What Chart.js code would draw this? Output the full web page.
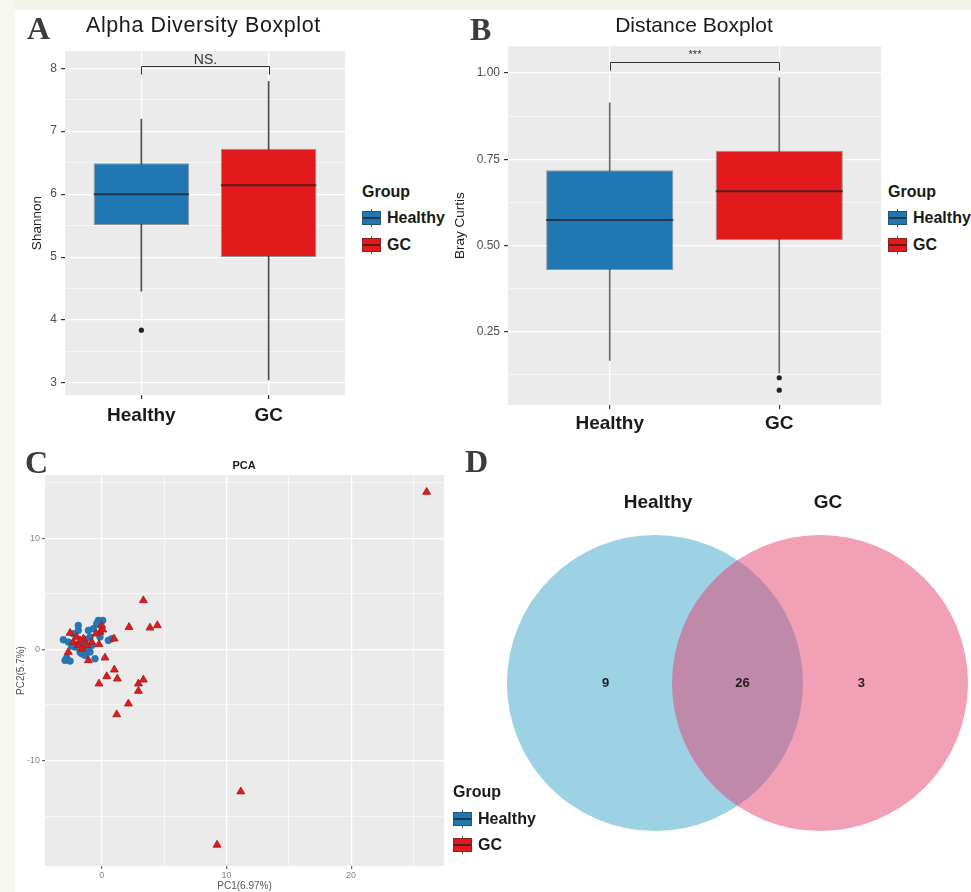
<!DOCTYPE html>
<html><head><meta charset="utf-8">
<script src="https://cdn.jsdelivr.net/npm/chart.js@4.4.1/dist/chart.umd.min.js"></script>
<style>
html,body{margin:0;padding:0;background:#fff;}
body{width:971px;height:892px;overflow:hidden;position:relative;font-family:"Liberation Sans",Arial,sans-serif;}
.strip{position:absolute;}
.txt{position:absolute;white-space:nowrap;line-height:1;transform:translateY(-50%);color:#1a1a1a;}
.ctr{transform:translate(-50%,-50%);}
.letter{font-family:"Liberation Serif","Times New Roman",serif;font-weight:bold;font-size:32px;color:#3c3c3c;}
canvas{position:absolute;}
.key{position:absolute;width:19px;height:18px;}
.key .w{position:absolute;left:9px;top:0;width:1px;height:18px;background:#555;}
.key .b{position:absolute;left:0;top:2px;width:17px;height:12px;border:1px solid rgba(40,40,40,0.45);}
.key .m{position:absolute;left:1px;top:8px;width:17px;height:2px;background:rgba(30,30,30,0.7);}
.lg{font-weight:bold;font-size:16px;}
</style></head><body>
<div class="strip" style="left:0;top:0;width:971px;height:10px;background:#f1f5e7"></div>
<div class="strip" style="left:0;top:0;width:15px;height:892px;background:#f6f7f1"></div>

<canvas id="cA" width="335" height="400" style="left:15px;top:40px"></canvas>
<canvas id="cB" width="436" height="405" style="left:450px;top:35px"></canvas>
<canvas id="cC" width="435" height="437" style="left:15px;top:455px"></canvas>
<canvas id="cD" width="501" height="452" style="left:470px;top:440px"></canvas>

<div class="txt letter" style="left:27px;top:28px">A</div>
<div class="txt letter" style="left:470px;top:29px">B</div>
<div class="txt letter" style="left:25px;top:462px">C</div>
<div class="txt letter" style="left:465px;top:461px">D</div>

<div class="txt" style="left:86px;top:26px;font-size:21.5px;letter-spacing:0.6px">Alpha Diversity Boxplot</div>
<div class="txt ctr" style="left:694px;top:24px;font-size:21px">Distance Boxplot</div>
<div class="txt ctr" style="left:244px;top:465px;font-size:11px;font-weight:bold">PCA</div>

<div id="legends"></div>

<script>
// ---------------- data ----------------
const groups = ['Healthy', 'GC'];

// Panel A: Shannon alpha diversity (box statistics)
const shannonLower  = [4.46, 3.05];
const shannonQ1     = [5.51, 5.00];
const shannonMedian = [6.00, 6.14];
const shannonQ3     = [6.49, 6.72];
const shannonUpper  = [7.19, 7.79];
const shannonOutliers = [[3.84], []];
const shannonTicks  = [3, 4, 5, 6, 7, 8];
const shannonSig    = 'NS.';

// Panel B: Bray Curtis distance (box statistics)
const brayLower  = [0.166, 0.130];
const brayQ1     = [0.429, 0.515];
const brayMedian = [0.574, 0.657];
const brayQ3     = [0.718, 0.775];
const brayUpper  = [0.914, 0.987];
const brayOutliers = [[], [0.116, 0.080]];
const brayTicks  = [0.25, 0.50, 0.75, 1.00];
const braySig    = '***';

// Panel C: PCA scores
const pcaHealthyX = [-3.08,-2.81,-2.94,-2.54,-2.28,-1.88,-1.07,-0.67,-0.27,0.08,-0.40,-1.60,-1.34,-0.94,-1.20,-0.54,-2.14,-1.47,0.80,0.53,-0.94,-2.68,-1.74,-0.14,-0.80,-1.88,-2.40,-1.30];
const pcaHealthyY = [0.87,-0.75,-0.99,-1.05,1.41,1.71,1.71,1.86,2.61,2.61,2.31,-0.39,-0.54,-0.24,0.06,-0.84,0.21,0.51,0.96,0.81,1.11,0.66,-0.24,1.11,0.36,2.16,0.30,0.90];
const pcaGCX = [3.34,2.19,3.87,4.46,-2.54,-2.00,-1.47,-1.87,-1.20,-2.68,-1.07,-0.22,0.26,-0.14,0.08,-0.46,1.01,0.40,1.25,-0.22,2.94,3.34,2.94,2.14,0.99,-0.80,-1.74,-2.28,-1.60,0.00,1.20,26.06,11.15,9.25];
const pcaGCY = [4.41,2.00,1.95,2.16,1.47,1.11,0.96,0.36,0.36,-0.24,-0.99,0.45,-0.75,1.56,1.77,1.41,-1.83,-2.43,-2.64,-3.09,-3.09,-2.73,-3.75,-4.89,0.96,0.66,0.81,0.66,0.06,2.16,-5.86,14.17,-12.80,-17.60];
const pcaXTicks = [0, 10, 20];
const pcaYTicks = [-10, 0, 10];
const pcaXTitle = 'PC1(6.97%)';
const pcaYTitle = 'PC2(5.7%)';

// Panel D: Venn counts  [Healthy only, shared, GC only]
const vennSets = ['Healthy', 'GC'];
const vennCounts = [9, 26, 3];

// ---------------- styles ----------------
const F = '"Liberation Sans", Arial, sans-serif';
const groupFill = ['#1f78b4', '#e31a1c'];
const panelBg = '#ebebeb';
Chart.defaults.font.family = F;

function withMinor(major, min, max) {
  const step = major[1] - major[0];
  const out = major.map(v => ({value: v, minorGrid: false}));
  const cands = [major[0] - step / 2, major[major.length - 1] + step / 2];
  for (let i = 0; i < major.length - 1; i++) cands.push((major[i] + major[i + 1]) / 2);
  cands.forEach(v => { if (v >= min && v <= max) out.push({value: v, minorGrid: true}); });
  return out.sort((a, b) => a.value - b.value);
}

const bgPlugin = {
  id: 'panelBg',
  beforeDraw(chart, args, o) {
    if (!o || !o.color) return;
    const {ctx, chartArea: a} = chart;
    ctx.save(); ctx.fillStyle = o.color; ctx.fillRect(a.left, a.top, a.width, a.height); ctx.restore();
  }
};

const boxExtras = {
  id: 'boxExtras',
  afterDatasetsDraw(chart, args, o) {
    if (!o || !o.medians) return;
    const {ctx, scales: {x, y}} = chart;
    const meta = chart.getDatasetMeta(0);
    ctx.save();
    ctx.strokeStyle = 'rgba(30,30,30,0.72)'; ctx.lineWidth = 2;
    meta.data.forEach((bar, i) => {
      const py = y.getPixelForValue(o.medians[i]);
      ctx.beginPath(); ctx.moveTo(bar.x - bar.width / 2, py); ctx.lineTo(bar.x + bar.width / 2, py); ctx.stroke();
    });
    const x1 = Math.round(x.getPixelForValue(1)) + 0.5, x2 = Math.round(x.getPixelForValue(2)) + 0.5;
    const yb = Math.round(y.getPixelForValue(o.bracket[0])) + 0.5, yd = y.getPixelForValue(o.bracket[1]);
    ctx.strokeStyle = '#333'; ctx.lineWidth = 1;
    ctx.beginPath(); ctx.moveTo(x1, yd); ctx.lineTo(x1, yb); ctx.lineTo(x2, yb); ctx.lineTo(x2, yd); ctx.stroke();
    ctx.fillStyle = '#333'; ctx.font = o.labelFont; ctx.textAlign = 'center'; ctx.textBaseline = 'alphabetic';
    ctx.fillText(o.label, (x1 + x2) / 2, yb - o.labelGap);
    ctx.restore();
  }
};

function boxChart(id, c) {
  const box = groups.map((g, i) => ({x: i + 1, y: [c.q1[i], c.q3[i]]}));
  const whisk = groups.map((g, i) => ({x: i + 1, y: [c.lo[i], c.hi[i]]}));
  const outl = [];
  c.out.forEach((arr, i) => arr.forEach(v => outl.push({x: i + 1, y: v})));
  const yTicks = withMinor(c.ticks, c.ymin, c.ymax);
  return new Chart(document.getElementById(id), {
    type: 'bar',
    data: { datasets: [
      { type: 'bar', data: box, backgroundColor: groupFill, borderColor: 'rgba(40,40,40,0.45)', borderWidth: 1,
        borderSkipped: false, grouped: false, barPercentage: 0.75, categoryPercentage: 1, order: 0 },
      { type: 'bar', data: whisk, backgroundColor: c.whiskColor, borderWidth: 0, grouped: false, barThickness: 1, order: 2 },
      { type: 'scatter', data: outl, pointRadius: 2.6, backgroundColor: '#222', borderWidth: 0, order: 1 }
    ]},
    options: {
      responsive: false, animation: false, events: [],
      layout: { padding: { top: c.padTop, right: c.padRight, left: 0, bottom: 0 } },
      plugins: {
        legend: { display: false }, tooltip: { enabled: false },
        panelBg: { color: panelBg },
        boxExtras: { medians: c.med, bracket: c.bracket, label: c.sig, labelFont: c.sigFont, labelGap: c.sigGap }
      },
      scales: {
        x: {
          type: 'linear', min: 0.4, max: 2.6, offset: false,
          afterBuildTicks: s => { s.ticks = groups.map((g, i) => ({value: i + 1})); },
          afterFit: s => { s.height = c.xAxisH; },
          ticks: { autoSkip: false, maxRotation: 0, padding: c.xPad, color: '#1a1a1a',
                   font: { size: 19, weight: 'bold' }, callback: v => groups[Math.round(v) - 1] },
          grid: { offset: false, color: '#ffffff', lineWidth: 1.2, tickColor: '#333', tickLength: 4 },
          border: { display: false }
        },
        y: {
          type: 'linear', min: c.ymin, max: c.ymax,
          afterBuildTicks: s => { s.ticks = yTicks.map(t => ({value: t.value, minorGrid: t.minorGrid})); },
          afterFit: s => { s.width = c.yAxisW; },
          ticks: { autoSkip: false, padding: 4, color: '#4d4d4d', font: { size: 12 },
                   callback: (v, i, t) => t[i].minorGrid ? '' : c.fmt(v) },
          grid: { color: '#ffffff', lineWidth: k => (k.tick && k.tick.minorGrid) ? 0.6 : 1.2,
                  tickColor: k => (k.tick && k.tick.minorGrid) ? 'rgba(0,0,0,0)' : '#333', tickLength: 4 },
          border: { display: false },
          title: { display: true, text: c.ytitle, color: '#222', font: { size: 13.5 }, padding: { top: c.titlePad, bottom: 0 } }
        }
      }
    },
    plugins: [bgPlugin, boxExtras]
  });
}

boxChart('cA', {
  q1: shannonQ1, q3: shannonQ3, lo: shannonLower, hi: shannonUpper, med: shannonMedian, out: shannonOutliers,
  ticks: shannonTicks, ymin: 2.81, ymax: 8.27, fmt: v => String(v), ytitle: 'Shannon',
  bracket: [8.04, 7.90], sig: shannonSig, sigFont: '14px ' + F, sigGap: 3, whiskColor: '#4d4d4d',
  padTop: 7, padRight: 5, yAxisW: 50, xAxisH: 45, xPad: 5, titlePad: 14
});
boxChart('cB', {
  q1: brayQ1, q3: brayQ3, lo: brayLower, hi: brayUpper, med: brayMedian, out: brayOutliers,
  ticks: brayTicks, ymin: 0.037, ymax: 1.078, fmt: v => v.toFixed(2), ytitle: 'Bray Curtis',
  bracket: [1.031, 1.007], sig: braySig, sigFont: '11px ' + F, sigGap: 5, whiskColor: '#6a6a6a',
  padTop: 7, padRight: 5, yAxisW: 58, xAxisH: 35, xPad: 3, titlePad: 2
});

// Panel C: PCA scatter
(function () {
  const xt = withMinor([-10, 0, 10, 20], -4.55, 27.45).filter(t => t.value >= -4.55 && t.value <= 27.45 && (t.minorGrid || pcaXTicks.includes(t.value)));
  const yt = withMinor([-20, -10, 0, 10, 20], -19.5, 15.7).filter(t => t.value >= -19.5 && t.value <= 15.7 && (t.minorGrid || pcaYTicks.includes(t.value)));
  const axisCommon = (ticksArr) => ({
    type: 'linear',
    afterBuildTicks: s => { s.ticks = ticksArr.map(t => ({value: t.value, minorGrid: t.minorGrid})); },
    ticks: { autoSkip: false, maxRotation: 0, color: '#858585', font: { size: 9 },
             callback: (v, i, t) => t[i].minorGrid ? '' : String(v) },
    grid: { color: '#ffffff', lineWidth: k => (k.tick && k.tick.minorGrid) ? 0.6 : 1.2,
            tickColor: k => (k.tick && k.tick.minorGrid) ? 'rgba(0,0,0,0)' : '#666', tickLength: 3 },
    border: { display: false }
  });
  const xs = axisCommon(xt), ys = axisCommon(yt);
  Object.assign(xs, { min: -4.55, max: 27.45, afterFit: s => { s.height = 26; },
    title: { display: true, text: pcaXTitle, color: '#555', font: { size: 10 }, padding: { top: 0, bottom: 0 } } });
  xs.ticks.padding = 1;
  Object.assign(ys, { min: -19.5, max: 15.7, afterFit: s => { s.width = 30; },
    title: { display: true, text: pcaYTitle, color: '#555', font: { size: 10 }, padding: { top: 0, bottom: 0 } } });
  ys.ticks.padding = 2;
  new Chart(document.getElementById('cC'), {
    type: 'scatter',
    data: { datasets: [
      { label: 'GC', data: pcaGCX.map((x, i) => ({x, y: pcaGCY[i]})), pointStyle: 'triangle', pointRadius: 4.6,
        backgroundColor: '#e31a1c', borderColor: '#a41616', borderWidth: 0.8, order: 0 },
      { label: 'Healthy', data: pcaHealthyX.map((x, i) => ({x, y: pcaHealthyY[i]})), pointStyle: 'circle', pointRadius: 3.4,
        backgroundColor: '#2479b5', borderColor: '#1b6aa0', borderWidth: 0.5, order: 1 }
    ]},
    options: {
      responsive: false, animation: false, events: [],
      layout: { padding: { top: 20, right: 6, left: 0, bottom: 0 }, autoPadding: false },
      plugins: { legend: { display: false }, tooltip: { enabled: false }, panelBg: { color: panelBg } },
      scales: { x: xs, y: ys }
    },
    plugins: [bgPlugin]
  });
})();

// Panel D: Venn diagram as two bubbles
const vennPlugin = {
  id: 'vennLabels',
  afterDatasetsDraw(chart) {
    const {ctx} = chart;
    const a = chart.getDatasetMeta(0).data[0], b = chart.getDatasetMeta(1).data[0];
    const r = a.options.radius, d = b.x - a.x, cy = a.y;
    ctx.save();
    ctx.textAlign = 'center'; ctx.textBaseline = 'middle';
    ctx.fillStyle = '#1a1a1a'; ctx.font = 'bold 19px ' + F;
    ctx.fillText(vennSets[0], a.x + 3, cy - r - 32);
    ctx.fillText(vennSets[1], b.x + 8, cy - r - 32);
    ctx.font = 'bold 13px ' + F; ctx.fillStyle = '#1e1e1e';
    const px = [a.x - 0.30 * d, (a.x + b.x) / 2 + 0.03 * d, b.x + 0.25 * d];
    vennCounts.forEach((v, i) => ctx.fillText(String(v), px[i], cy));
    ctx.restore();
  }
};
new Chart(document.getElementById('cD'), {
  type: 'bubble',
  data: { datasets: [
    { label: vennSets[0], data: [{x: 0, y: 0}], radius: 148, backgroundColor: 'rgba(59,165,203,0.5)', borderWidth: 0, order: 1, clip: false },
    { label: vennSets[1], data: [{x: 1, y: 0}], radius: 148, backgroundColor: 'rgba(227,65,109,0.5)', borderWidth: 0, order: 0, clip: false }
  ]},
  options: {
    responsive: false, animation: false, events: [],
    layout: { padding: 0, autoPadding: false },
    plugins: { legend: { display: false }, tooltip: { enabled: false } },
    scales: { x: { display: false, min: -1.1212, max: 1.9152 }, y: { display: false, min: -1, max: 1.163 } }
  },
  plugins: [vennPlugin]
});

// HTML legends (ggplot-style boxplot keys)
function legend(x, yTitle, yRows) {
  const host = document.getElementById('legends');
  let h = `<div class="txt lg" style="left:${x}px;top:${yTitle}px">Group</div>`;
  groups.forEach((g, i) => {
    h += `<div class="key" style="left:${x}px;top:${yRows[i] - 9}px"><div class="w"></div><div class="b" style="background:${groupFill[i]}"></div><div class="m"></div></div>`;
    h += `<div class="txt lg" style="left:${x + 25}px;top:${yRows[i]}px">${g}</div>`;
  });
  host.insertAdjacentHTML('beforeend', h);
}
legend(362, 192, [218, 245]);
legend(888, 192, [218, 245]);
legend(453, 792, [819, 845]);
</script>
</body></html>
